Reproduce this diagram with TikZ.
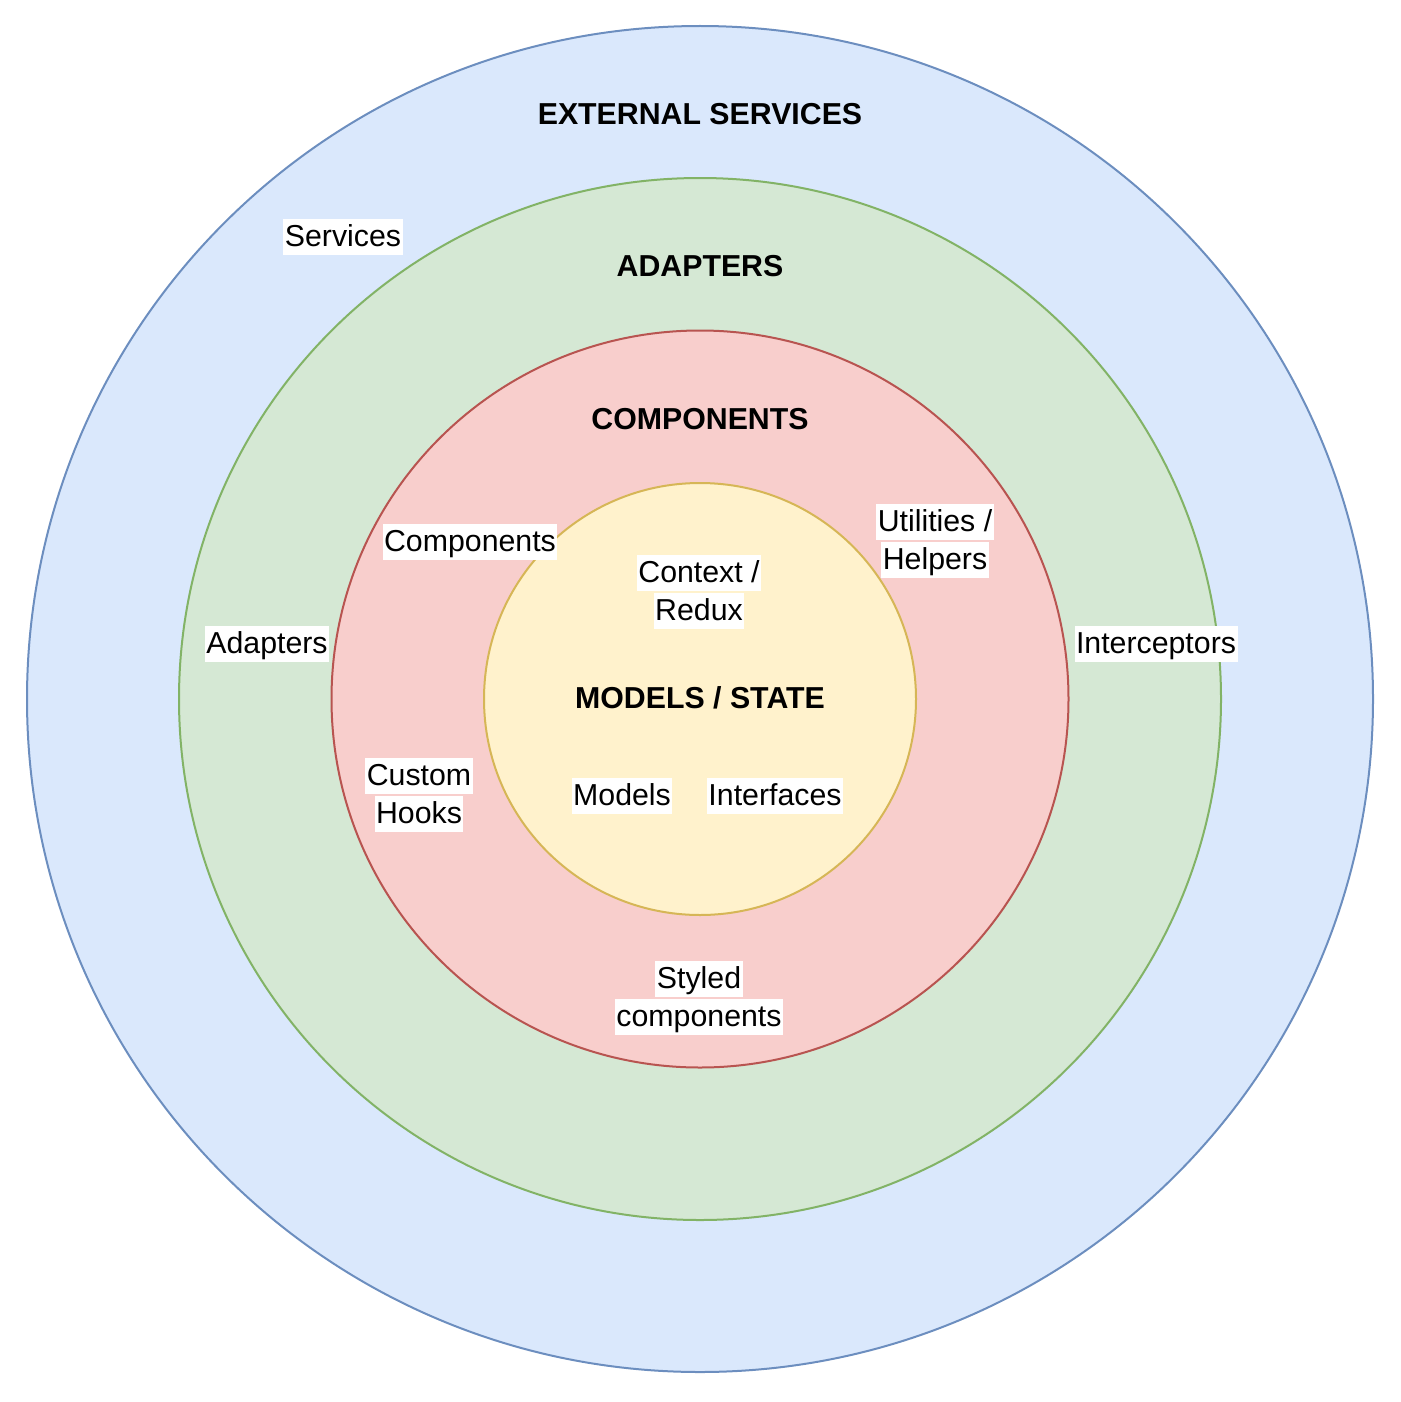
\documentclass[tikz,border=0pt]{standalone}
\usepackage{fontspec}
\setmainfont{Liberation Sans}
\definecolor{bfill}{HTML}{DAE8FC}\definecolor{bdraw}{HTML}{6C8EBF}
\definecolor{gfill}{HTML}{D5E8D4}\definecolor{gdraw}{HTML}{82B366}
\definecolor{rfill}{HTML}{F8CECC}\definecolor{rdraw}{HTML}{B85450}
\definecolor{yfill}{HTML}{FFF2CC}\definecolor{ydraw}{HTML}{D6B656}
\newcommand{\wl}[1]{{\setlength{\fboxsep}{1.5pt}\colorbox{white}{\rule[-0.24em]{0pt}{1.12em}#1}}}
\tikzset{
  ring/.style={circle, line width=2pt, inner sep=0pt},
  lbl/.style={inner sep=0pt, align=center, font=\fontsize{30.3}{38}\selectfont},
  ttl/.style={inner sep=0pt, font=\fontsize{30.3}{36}\selectfont\bfseries}
}
\begin{document}
\begin{tikzpicture}[x=1pt,y=-1pt]
\useasboundingbox (0,0) rectangle (1400,1402);
\node[ring, draw=bdraw, fill=bfill, minimum size=1346pt] (ext) at (700,699) {};
\node[ring, draw=gdraw, fill=gfill, minimum size=1042pt] (ada) at (700,699) {};
\node[ring, draw=rdraw, fill=rfill, minimum size=737pt] (com) at (700,699) {};
\node[ring, draw=ydraw, fill=yfill, minimum size=432pt] (mod) at (700,699) {};

\node[ttl] (t1) at (700,114) {EXTERNAL SERVICES};
\node[ttl] (t2) at (700,266) {ADAPTERS};
\node[ttl] (t3) at (700,419) {COMPONENTS};
\node[ttl] (t4) at (700,698) {MODELS / STATE};

\node[lbl] (services) at (343,237) {\wl{Services}};
\node[lbl] (components) at (470,542) {\wl{Components}};
\node[lbl] (context) at (699,592) {\wl{Context /}\\\wl{Redux}};
\node[lbl] (utilities) at (935,541) {\wl{Utilities /}\\\wl{Helpers}};
\node[lbl] (adapters) at (267,644) {\wl{Adapters}};
\node[lbl] (interceptors) at (1156,644) {\wl{Interceptors}};
\node[lbl] (hooks) at (419,795) {\wl{Custom}\\\wl{Hooks}};
\node[lbl] (models) at (622,796) {\wl{Models}};
\node[lbl] (interfaces) at (775,796) {\wl{Interfaces}};
\node[lbl] (styled) at (699,998) {\wl{Styled}\\\wl{components}};
\end{tikzpicture}
\end{document}
